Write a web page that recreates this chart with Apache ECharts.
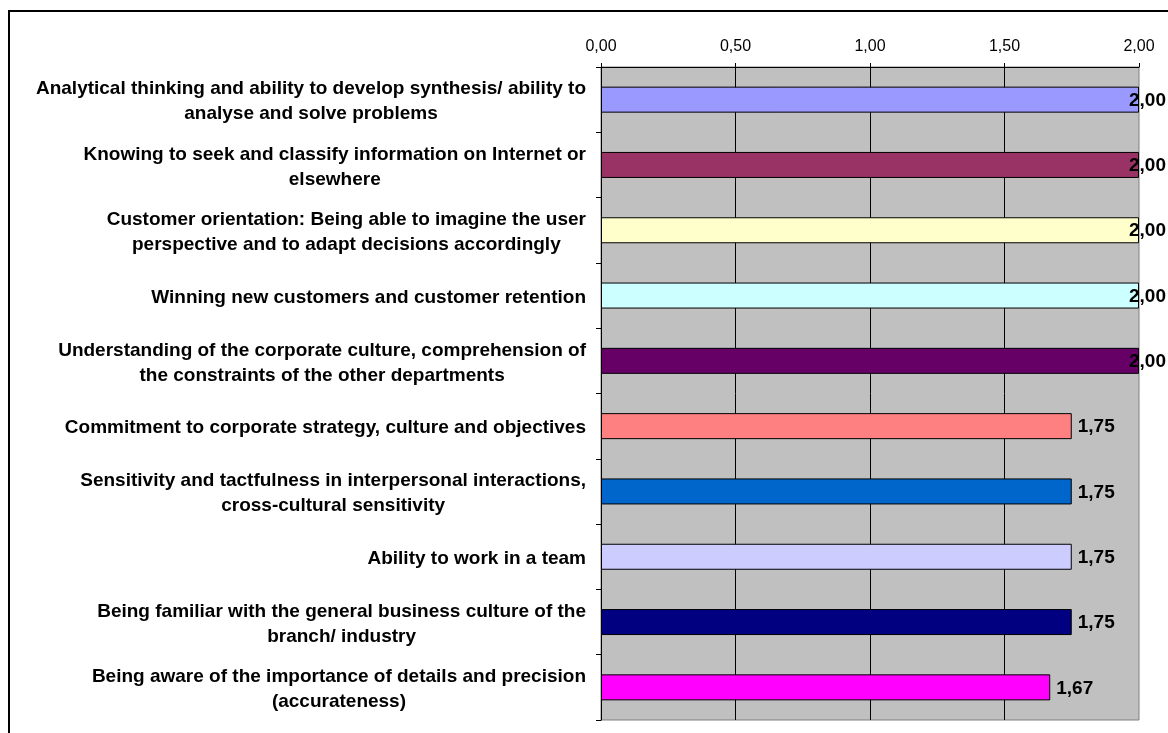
<!DOCTYPE html>
<html>
<head>
<meta charset="utf-8">
<script src="https://cdn.jsdelivr.net/npm/echarts@6/dist/echarts.min.js"></script>
<style>
  html, body { margin: 0; padding: 0; background: #fff; }
  #chart { width: 1168px; height: 733px; }
</style>
</head>
<body>
<div id="chart"></div>
<script>
// competences, top to bottom as in the picture
const categories = [
  'Analytical thinking and ability to develop synthesis/ ability to\nanalyse and solve problems',
  'Knowing to seek and classify information on Internet or\nelsewhere',
  'Customer orientation: Being able to imagine the user\nperspective and to adapt decisions accordingly',
  'Winning new customers and customer retention',
  'Understanding of the corporate culture, comprehension of\nthe constraints of the other departments',
  'Commitment to corporate strategy, culture and objectives',
  'Sensitivity and tactfulness in interpersonal interactions,\ncross-cultural sensitivity',
  'Ability to work in a team',
  'Being familiar with the general business culture of the\nbranch/ industry',
  'Being aware of the importance of details and precision\n(accurateness)'
];
const scores = [2.00, 2.00, 2.00, 2.00, 2.00, 1.75, 1.75, 1.75, 1.75, 1.67];
const barColors = ['#9999FF', '#993366', '#FFFFCC', '#CCFFFF', '#660066',
                   '#FF8080', '#0066CC', '#CCCCFF', '#000080', '#FF00FF'];
const tickLabels = ['0,00', '0,50', '1,00', '1,50', '2,00'];

const FONT = '"Liberation Sans", Arial, sans-serif';
const fmt = v => v.toFixed(2).replace('.', ',');

const chart = echarts.init(document.getElementById('chart'), null, { renderer: 'canvas' });

const option = {
  animation: false,
  backgroundColor: '#fff',
  textStyle: { fontFamily: FONT },
  graphic: [{
    type: 'rect',
    shape: { x: 9, y: 11, width: 1300, height: 900 },
    style: { fill: 'none', stroke: '#000', lineWidth: 2 },
    silent: true
  }],
  grid: {
    left: 601, right: 29, top: 67, bottom: 13,
    show: true,
    backgroundColor: '#C0C0C0',
    borderColor: '#808080',
    borderWidth: 1
  },
  xAxis: {
    type: 'value',
    position: 'top',
    min: 0, max: 2, interval: 0.5,
    axisLine: { show: true, lineStyle: { color: '#000', width: 1 } },
    axisTick: { show: true, length: 4, lineStyle: { color: '#000' } },
    axisLabel: {
      margin: 12,
      color: '#000',
      fontFamily: FONT,
      fontSize: 16,
      formatter: v => tickLabels[Math.round(v / 0.5)]
    },
    splitLine: { show: true, showMaxLine: false, lineStyle: { color: '#000', width: 1 } }
  },
  yAxis: {
    type: 'category',
    inverse: true,
    data: categories,
    axisLine: { show: true, lineStyle: { color: '#000', width: 1 } },
    axisTick: { show: true, length: 5, lineStyle: { color: '#000' } },
    axisLabel: {
      margin: 15,
      align: 'right',
      color: '#000',
      padding: [4, 0, 0, 0],
      formatter: v => v.split('\n').map(l => '{c|' + l + '}').join('\n'),
      rich: {
        c: {
          align: 'center',
          fontFamily: FONT,
          fontWeight: 'bold',
          fontSize: 19,
          lineHeight: 25,
          color: '#000'
        }
      }
    }
  },
  series: [{
    type: 'bar',
    barWidth: 26,
    data: scores.map((v, i) => ({
      value: v,
      itemStyle: { color: barColors[i] },
      label: v >= 2 ? { offset: [-16, 1] } : { offset: [0, 1] }
    })),
    itemStyle: { borderColor: '#000', borderWidth: 1 },
    label: {
      show: true,
      position: 'right',
      distance: 6,
      color: '#000',
      fontFamily: FONT,
      fontWeight: 'bold',
      fontSize: 19,
      formatter: p => fmt(p.value)
    }
  }]
};

chart.setOption(option);
</script>
</body>
</html>
